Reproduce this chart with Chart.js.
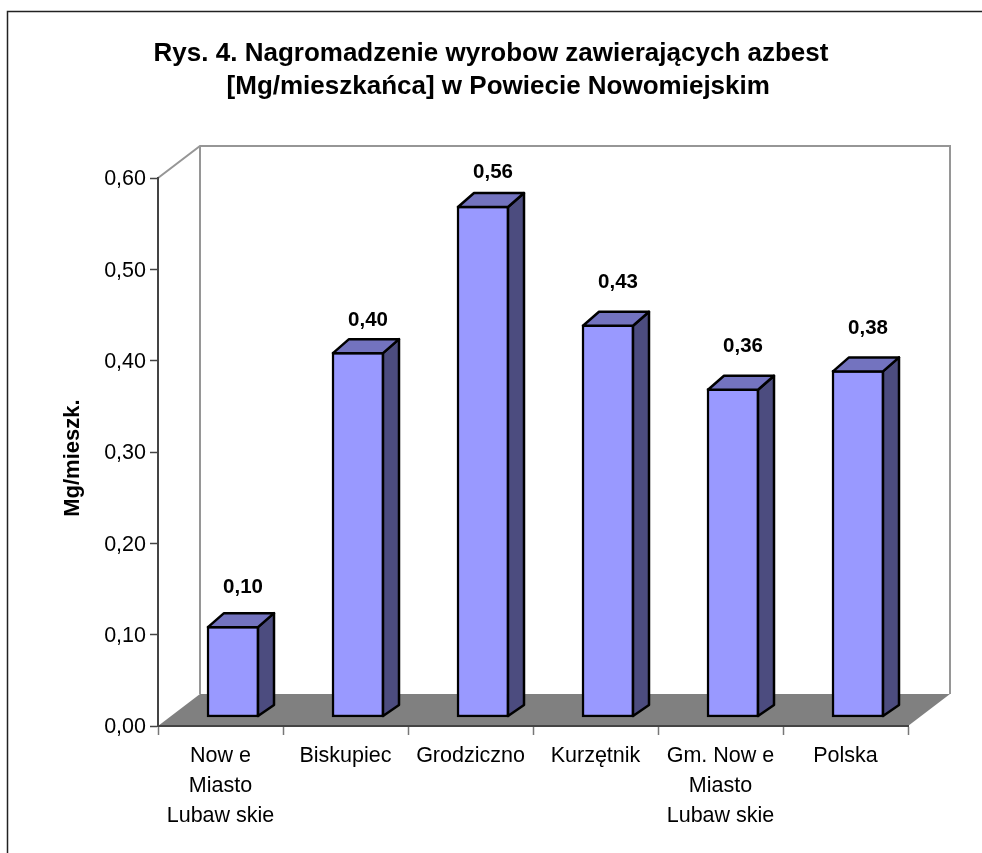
<!DOCTYPE html>
<html><head><meta charset="utf-8">
<style>html,body{margin:0;padding:0;background:#fff}canvas{display:block}</style>
<script src="https://cdn.jsdelivr.net/npm/chart.js@4"></script>
</head><body><canvas id="c" width="982" height="853"></canvas>
<script>
const categories = [["Now e","Miasto","Lubaw skie"],"Biskupiec","Grodziczno","Kurzętnik",["Gm. Now e","Miasto","Lubaw skie"],"Polska"];
const values = [0.10,0.40,0.56,0.43,0.36,0.38];
const yMin = 0, yMax = 0.6, yStep = 0.1;
const titleLines = ["Rys. 4. Nagromadzenie wyrobow zawierających azbest","[Mg/mieszkańca] w Powiecie Nowomiejskim"];
const yTitle = "Mg/mieszk.";
const labelLift = [40,33,35,43,43,43];
const FONT = '"Liberation Sans", Arial, sans-serif';
const fmt = v => v.toFixed(2).replace('.',',');

const wall = {dx:42, dy:32};
const bar3d = {shiftX:12.5, shiftY:-8.5, dx:16, dyTop:14, dyBase:11};

const plugin3d = {
  id:'plugin3d',
  beforeDraw(chart){
    const {ctx, chartArea:a} = chart;
    ctx.save();
    ctx.fillStyle='#fff'; ctx.fillRect(0,0,chart.width,chart.height);
    ctx.strokeStyle='#222'; ctx.lineWidth=1.5;
    ctx.beginPath(); ctx.moveTo(7.5,chart.height); ctx.lineTo(7.5,11.5); ctx.lineTo(chart.width,11.5); ctx.stroke();
    const y0=a.bottom, yT=a.top, L=a.left, R=a.right;
    ctx.fillStyle='#808080';
    ctx.beginPath(); ctx.moveTo(L,y0); ctx.lineTo(L+wall.dx,y0-wall.dy); ctx.lineTo(R+wall.dx,y0-wall.dy); ctx.lineTo(R,y0); ctx.closePath(); ctx.fill();
    ctx.strokeStyle='#969696'; ctx.lineWidth=2;
    ctx.beginPath();
    ctx.moveTo(L,yT); ctx.lineTo(L+wall.dx,yT-wall.dy); ctx.lineTo(R+wall.dx,yT-wall.dy); ctx.lineTo(R+wall.dx,y0-wall.dy);
    ctx.moveTo(L+wall.dx,yT-wall.dy); ctx.lineTo(L+wall.dx,y0-wall.dy);
    ctx.stroke();
    ctx.restore();
  },
  beforeDatasetsDraw(chart){
    chart.ctx.save();
    chart.ctx.translate(bar3d.shiftX, bar3d.shiftY);
  },
  afterDatasetsDraw(chart){
    const ctx=chart.ctx, meta=chart.getDatasetMeta(0);
    ctx.lineWidth=2.5; ctx.strokeStyle='#000'; ctx.lineJoin='round';
    meta.data.forEach(el=>{
      const p=el.getProps(['x','y','base','width'],true);
      const r=p.x+p.width/2-1, l=p.x-p.width/2+1, t=p.y+1, b=p.base-1;
      ctx.fillStyle='#4c4c7f';
      ctx.beginPath(); ctx.moveTo(r,t); ctx.lineTo(r+bar3d.dx,t-bar3d.dyTop); ctx.lineTo(r+bar3d.dx,b-bar3d.dyBase); ctx.lineTo(r,b); ctx.closePath(); ctx.fill(); ctx.stroke();
      ctx.fillStyle='#7373bf';
      ctx.beginPath(); ctx.moveTo(l,t); ctx.lineTo(l+bar3d.dx,t-bar3d.dyTop); ctx.lineTo(r+bar3d.dx,t-bar3d.dyTop); ctx.lineTo(r,t); ctx.closePath(); ctx.fill(); ctx.stroke();
    });
    ctx.restore();
    ctx.save();
    ctx.fillStyle='#000'; ctx.font='bold 20.5px '+FONT; ctx.textAlign='center'; ctx.textBaseline='middle';
    meta.data.forEach((el,i)=>{
      const p=el.getProps(['x','y'],true);
      ctx.fillText(fmt(values[i]), p.x+bar3d.shiftX+10, p.y+bar3d.shiftY-labelLift[i]+1);
    });
    ctx.restore();
  }
};

new Chart(document.getElementById('c'),{
  type:'bar',
  data:{labels:categories,datasets:[{data:values,backgroundColor:'#9999ff',borderColor:'#000',borderWidth:2.5,borderSkipped:false,barThickness:52,clip:false}]},
  plugins:[plugin3d],
  options:{
    responsive:false,animation:false,devicePixelRatio:1,
    layout:{padding:0},
    plugins:{
      legend:{display:false},tooltip:{enabled:false},
      title:{display:true,text:[titleLines[0],"  "+titleLines[1]],color:'#000',font:{family:FONT,size:26,weight:'bold',lineHeight:'33.5px'},padding:{top:37,bottom:74}}
    },
    scales:{
      x:{
        grid:{drawOnChartArea:false,tickLength:9,tickColor:'#777',tickWidth:1.5},
        border:{color:'#444',width:2},
        ticks:{color:'#000',font:{family:FONT,size:21.5,lineHeight:'30px'},autoSkip:false,maxRotation:0,minRotation:0,padding:6},
        afterFit:s=>{s.height=127;}
      },
      y:{
        min:yMin,max:yMax,
        grid:{drawOnChartArea:false,tickLength:8,tickColor:'#444',tickWidth:1.5},
        border:{color:'#444',width:2},
        ticks:{stepSize:yStep,color:'#000',font:{family:FONT,size:21.5},padding:4,labelOffset:1.5,callback:v=>fmt(v)},
        title:{display:true,text:yTitle+"  ",color:'#000',font:{family:FONT,size:22,weight:'bold'},padding:{top:60,bottom:0}},
        afterFit:s=>{s.width=158;}
      },
      yRight:{
        position:'right',display:true,
        grid:{display:false},border:{display:false},ticks:{display:false},
        afterFit:s=>{s.width=74;}
      }
    }
  }
});
</script></body></html>
